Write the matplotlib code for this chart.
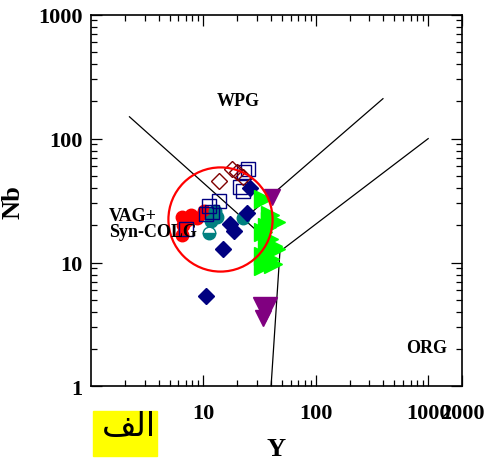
import matplotlib
matplotlib.use("Agg")
import matplotlib.pyplot as plt
from matplotlib.patches import Rectangle

# boundary lines (Y, Nb)
vag_wpg_y = [2.2, 48]
vag_wpg_nb = [150, 12.3]
wpg_org_y = [23, 396]
wpg_org_nb = [22.5, 210]
org_y = [48, 1000]
org_nb = [12.3, 100]
org_low_y = [40, 48]
org_low_nb = [1, 12.3]

# samples
red_y = [6.5, 7.8, 8.8, 6.6, 6.4, 7.2, 10.2, 10.9]
red_nb = [23.3, 24.2, 22.9, 20.1, 16.7, 22.1, 26.1, 24.7]

teal_y = [11.8, 12.8, 22.3, 13.3]
teal_nb = [21.7, 26.1, 22.9, 23.5]
teal_half_y = [11.3]
teal_half_nb = [17.3]

sq_y = [7.0, 10.6, 11.3, 11.9, 13.9, 21.0, 22.6, 23.2, 24.7]
sq_nb = [18.7, 24.7, 28.5, 25.5, 31.4, 40.7, 37.5, 53.8, 57.0]

odia_y = [13.9, 18.1, 20.1, 22.3]
odia_nb = [45.6, 56.9, 53.8, 49.1]

dia_y = [10.6, 14.8, 17.1, 18.9, 24.2, 26.2]
dia_nb = [5.4, 12.9, 20.5, 18.0, 25.1, 40.0]

green_y = [34.0, 39.5, 44.5, 34.0, 38.0, 42.0, 34.0, 39.5, 44.5, 42.0, 34.0, 36.5, 36.5, 39.5]
green_nb = [32.6, 21.7, 21.3, 17.7, 15.5, 13.6, 11.3, 10.7, 12.9, 9.7, 9.4, 14.1, 19.5, 24.0]

purple_y = [40.4, 35.0, 34.2]
purple_nb = [34.0, 4.2, 3.6]
purple_s = [11, 17, 11]

circle_y = [14.2]
circle_nb = [22.3]

font = "Liberation Serif"

fig = plt.figure(figsize=(4.85, 4.64), dpi=100)
ax = fig.add_axes([0.1876, 0.1649, 0.765, 0.8013])

ax.plot(vag_wpg_y, vag_wpg_nb, color="black", lw=0.9)
ax.plot(wpg_org_y, wpg_org_nb, color="black", lw=0.9)
ax.plot(org_y, org_nb, color="black", lw=0.9)
ax.plot(org_low_y, org_low_nb, color="black", lw=0.9)

ax.plot(red_y, red_nb, "o", ms=9, color="red", mec="red")
ax.plot(teal_y, teal_nb, "o", ms=9, color="#008080", mec="#008080")
ax.plot(teal_half_y, teal_half_nb, "o", ms=9, color="#008080", mec="#008080",
        fillstyle="bottom", markerfacecoloralt="white")
ax.plot(sq_y, sq_nb, "s", ms=10, mfc="none", mec="#000080", mew=1.0)
ax.plot(odia_y, odia_nb, "D", ms=8, mfc="none", mec="#800000", mew=1.0)
ax.plot(dia_y, dia_nb, "D", ms=8.5, color="#000080")
ax.plot(green_y, green_nb, ">", ms=13, color="#00ff00")
for y, nb, s in zip(purple_y, purple_nb, purple_s):
    ax.plot(y, nb, "v", ms=s, color="#800080")
ax.plot(circle_y, circle_nb, "o", ms=75, mfc="none", mec="red", mew=1.6)

ax.set_xscale("log")
ax.set_yscale("log")
ax.set_xlim(1, 2000)
ax.set_ylim(1, 1000)

ax.set_xticks([10, 100, 1000, 2000])
ax.set_xticklabels(["10", "100", "1000", "2000"])
ax.set_yticks([1, 10, 100, 1000])
ax.set_yticklabels(["1", "10", "100", "1000"])
ax.tick_params(which="both", direction="in", top=True, right=True, width=0.9)
ax.tick_params(which="major", length=8)
ax.tick_params(which="minor", length=4.5)
ax.tick_params(axis="x", pad=12)
ax.tick_params(axis="y", pad=6)
for lab in ax.get_xticklabels() + ax.get_yticklabels():
    lab.set_fontfamily(font)
    lab.set_fontweight("bold")
    lab.set_fontsize(16)
for sp in ax.spines.values():
    sp.set_linewidth(1.2)

ax.set_xlabel("Y", fontfamily=font, fontweight="bold", fontsize=19, labelpad=10)
ax.set_ylabel("Nb", fontfamily=font, fontweight="bold", fontsize=19, labelpad=10)

ax.text(13.06, 187, "WPG", fontfamily=font, fontweight="bold", fontsize=13)
ax.text(1.45, 22.1, "VAG+", fontfamily=font, fontweight="bold", fontsize=13)
ax.text(1.45, 16.4, "Syn-COLG", fontfamily=font, fontweight="bold", fontsize=13)
ax.text(631, 1.9, "ORG", fontfamily=font, fontweight="bold", fontsize=13)

# yellow label box
fig.patches.append(Rectangle((93 / 485, 1 - 457 / 464), 64 / 485, 45 / 464,
                             transform=fig.transFigure, color="#ffff00", zorder=0))
fig.text(129 / 485, 1 - 427 / 464, "\ufed2\ufedf\ufe8d", fontfamily="DejaVu Sans",
         fontsize=24, ha="center", va="center")

fig.savefig("out.png", dpi=100)
